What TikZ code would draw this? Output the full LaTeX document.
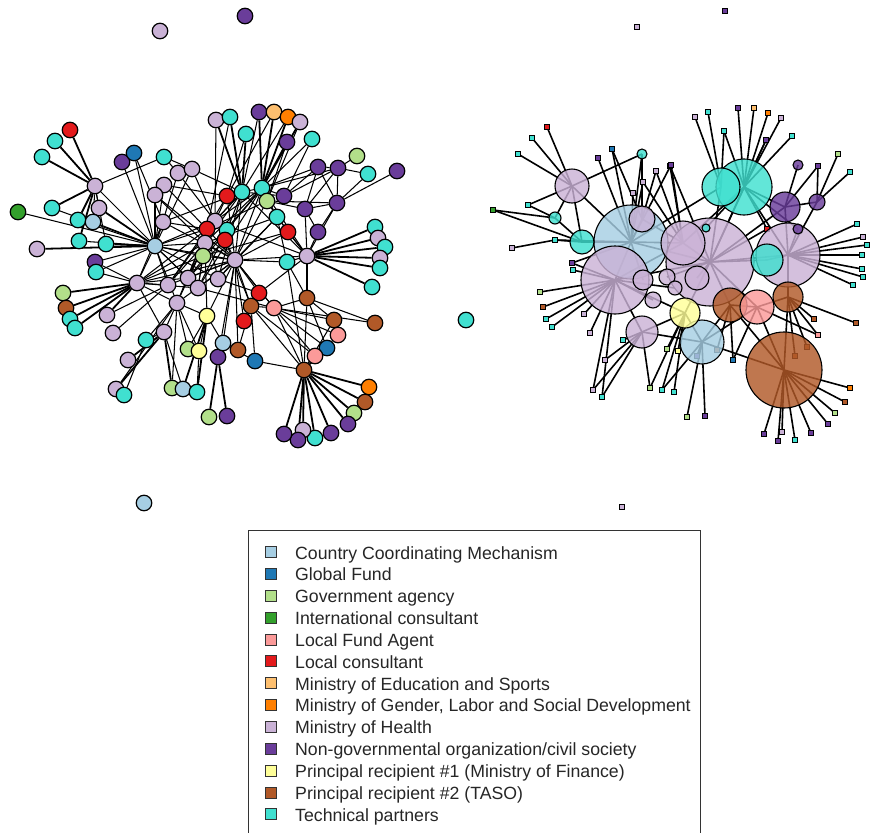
\documentclass[tikz,border=0pt]{standalone}
\usepackage{fontspec}
\setmainfont{Liberation Sans}
\pgfdeclarelayer{bg}
\pgfsetlayers{bg,main}
\definecolor{cCCM}{HTML}{A6CEE3}
\definecolor{cGF}{HTML}{1F78B4}
\definecolor{cGov}{HTML}{B2DF8A}
\definecolor{cInt}{HTML}{33A02C}
\definecolor{cLFA}{HTML}{FB9A99}
\definecolor{cLC}{HTML}{E31A1C}
\definecolor{cMES}{HTML}{FDBF6F}
\definecolor{cMGL}{HTML}{FF7F00}
\definecolor{cMoH}{HTML}{CAB2D6}
\definecolor{cNGO}{HTML}{6A3D9A}
\definecolor{cPR1}{HTML}{FFFF99}
\definecolor{cPR2}{HTML}{B15928}
\definecolor{cTP}{HTML}{40E0D0}
\tikzset{
  lv/.style={circle,draw=black,line width=1.2pt,inner sep=0pt,minimum size=15.5pt},
  ed/.style={line width=1.05pt,black},
  edh/.style={line width=1.8pt,black},
  rc/.style={circle,draw=black,line width=1.1pt,inner sep=0pt,fill opacity=0.82},
  rl/.style={rectangle,draw=black,line width=0.9pt,inner sep=0pt,minimum size=4.5pt},
  re/.style={line width=1.6pt,black},
  legsq/.style={rectangle,draw=black!80,line width=0.7pt,inner sep=0pt,minimum size=11pt},
  legtx/.style={anchor=base west,inner sep=0pt,font=\fontsize{17.7}{20}\selectfont,text=black!85}
}
\begin{document}
\begin{tikzpicture}[x=1pt,y=-1pt]
\useasboundingbox (0,0) rectangle (871,833);
% ---------------- left network nodes
\foreach \n/\x/\y/\c in {
a1/70/130/cLC, a2/55/141/cTP, a3/42/157/cTP, a4/122/162/cNGO, a5/134/153/cGF, a6/164/157/cTP,
a7/95/186/cMoH, a8/178/173/cMoH, a9/192/169/cMoH, a10/164/185/cMoH, a11/155/195/cMoH,
a12/18/212/cInt, a13/52/208/cTP, a14/99/208/cMoH, a15/78/220/cTP, a16/93/222/cCCM,
a17/163/222/cMoH, a18/79/241/cTP, a19/106/244/cTP, a20/155/246/cCCM, a21/37/249/cMoH,
a25/95/262/cNGO, a26/96/272/cTP,
b1/216/120/cMoH, b2/230/117/cTP, b3/259/112/cNGO, b4/274/112/cMES, b5/288/117/cMGL, b6/300/122/cMoH,
b7/246/134/cTP, b8/287/142/cNGO, b9/312/139/cTP, b10/357/156/cGov, b11/397/171/cNGO, b12/368/174/cTP,
b13/318/167/cNGO, b14/338/168/cNGO, b15/227/196/cLC, b16/242/192/cTP, b17/262/188/cTP, b18/267/201/cGov,
b19/284/196/cNGO, b20/305/209/cNGO, b21/337/203/cNGO, b22/277/217/cTP, b23/288/232/cLC, b24/318/232/cNGO,
b25/375/227/cTP, b26/378/238/cMoH, b27/385/247/cTP, b28/307/256/cMoH, b29/287/262/cTP, b30/235/260/cMoH,
b32/227/230/cTP, b31/225/240/cLC, a27/215/221/cMoH, a22/207/229/cLC, a23/205/243/cMoH, a24/203/256/cGov,
b33/380/258/cMoH, b34/380/268/cTP, b35/372/287/cTP,
c1/63/293/cGov, c2/66/308/cPR2, c3/70/319/cTP, c4/75/328/cTP, c5/107/315/cMoH, c6/113/333/cMoH,
c7/137/283/cMoH, c8/168/285/cMoH, c9/188/278/cMoH, c10/198/288/cMoH, c11/177/303/cMoH, c12/207/316/cPR1,
c13/164/332/cMoH, c14/146/340/cTP, c15/128/360/cMoH, c16/188/349/cGov, c17/199/351/cPR1, c18/218/357/cNGO,
c19/116/389/cMoH, c20/124/395/cTP, c21/172/388/cGov, c22/183/389/cCCM, c23/197/392/cTP, c24/209/417/cGov,
c25/227/416/cNGO, c26/218/279/cMoH,
d1/259/293/cLC, d2/251/306/cPR2, d3/274/308/cLFA, d4/244/321/cLC, d5/307/298/cPR2, d6/334/320/cPR2,
d7/375/323/cPR2, d8/338/335/cLFA, d9/327/348/cGF, d10/315/356/cLFA, d11/223/343/cCCM, d12/238/350/cPR2,
d13/255/361/cGF, d14/304/370/cPR2, d15/369/387/cMGL, d16/365/402/cPR2, d17/354/413/cGov, d18/348/424/cNGO,
d19/331/433/cNGO, d20/315/438/cTP, d21/303/430/cMoH, d22/298/440/cNGO, d23/284/434/cNGO,
e1/160/31/cMoH, e2/245/16/cNGO, e3/466/320/cTP, e4/144/503/cCCM}
  \node[lv,fill=\c] (\n) at (\x,\y) {};
% ---------------- right network leaves
\foreach \n/\x/\y/\c in {
q1/547/127/cLC, q2/532/138/cTP, q3/518/154/cTP, q4/612/149/cGF, q5/598/158/cNGO, q6/493/210/cInt,
q7/528/205/cTP, q8/512/248/cMoH, q9/555/240/cTP, q10/643/182/cMoH, q11/633/193/cMoH, q12/656/171/cMoH,
q13/670/166/cNGO, q14/695/117/cMoH, q15/708/112/cTP, q16/724/131/cTP, q17/738/108/cNGO, q18/754/108/cMES,
q19/768/113/cMGL, q20/781/118/cMoH, q21/766/140/cNGO, q22/792/136/cTP, q23/838/154/cGov, q24/850/172/cTP,
q26/818/166/cNGO, q27/671/165/cNGO, q28/857/224/cTP, q29/863/237/cMoH, q30/867/245/cTP, q31/862/255/cTP,
q32/862/269/cTP, q33/863/277/cTP, q34/853/285/cTP, q35/814/319/cPR2, q36/856/323/cPR2, q37/818/335/cLFA,
q38/807/347/cPR2, q39/795/356/cPR2, q40/733/360/cGF, q41/717/350/cPR2, q42/697/356/cNGO, q43/687/417/cGov,
q44/705/416/cNGO, q45/662/390/cTP, q46/674/392/cTP, q47/650/388/cGov, q48/667/349/cGov, q49/678/351/cPR1,
q50/850/388/cMGL, q51/845/402/cPR2, q52/835/413/cGov, q53/828/424/cNGO, q54/811/433/cNGO, q55/795/440/cTP,
q56/782/432/cMoH, q57/778/441/cNGO, q58/764/434/cNGO, q59/540/292/cGov, q60/543/307/cPR2, q61/546/319/cTP,
q62/552/327/cTP, q63/584/314/cMoH, q64/590/333/cMoH, q65/623/340/cTP, q66/605/360/cMoH, q67/593/390/cMoH,
q68/602/397/cTP, q69/572/263/cNGO, q70/573/270/cTP, q71/767/229/cLC, q72/637/27/cMoH, q73/725/11/cNGO,
q74/622/507/cMoH}
  \node[rl,fill=\c] (\n) at (\x,\y) {};
% ---------------- right network circles
\foreach \n/\x/\y/\d/\c in {
R9/710/262/88pt/cMoH, R5/631/242/74pt/cCCM, R7/615/280/68pt/cMoH, R21/784/370/76pt/cPR2,
R10/788/255/64pt/cMoH, R11/744/187/56pt/cTP, R12/721/187/38pt/cTP, R8/683/243/44pt/cMoH,
R20/702/342/44pt/cCCM, R1/572/186/34pt/cMoH, R16/730/305/34pt/cPR2, R17/757/307/34pt/cLFA,
R18/788/297/30pt/cPR2, R19/685/313/30pt/cPR1, R22/642/332/32pt/cMoH, R6/642/219/26pt/cMoH,
R13/785/207/30pt/cNGO, R15/767/260/32pt/cTP, R4/582/242/24pt/cTP, R14/817/202/16pt/cNGO,
R23/697/278/24pt/cMoH, R24a/667/277/16pt/cMoH, R24b/675/288/14pt/cMoH, R24c/653/300/16pt/cMoH,
R24d/643/280/20pt/cMoH, R3/555/218/12pt/cTP, R2/642/154/10pt/cTP, R25/706/228/8pt/cTP,
R26/798/229/10pt/cNGO, R27/798/165/10pt/cNGO}
  \node[rc,fill=\c,minimum size=\d] (\n) at (\x,\y) {};
% ---------------- edges
\begin{pgfonlayer}{bg}
% heavier (multiple) ties from hubs to their leaves
\foreach \a/\b in {
a7/a1, a7/a2, a7/a3, a7/a13, a7/a15, a7/a18, a20/a21, a20/a14, a20/a19,
b1/b16, b2/b16, b3/b17, b4/b17, b5/b17, b6/b17, b7/b16, b8/b17,
b28/b25, b28/b26, b28/b27, b28/b33, b28/b34, b28/b35,
c7/c1, c7/c2, c7/c3, c7/c4, c7/c5,
d14/d15, d14/d16, d14/d17, d14/d18, d14/d19, d14/d20, d14/d21, d14/d22, d14/d23,
c13/c19, c13/c21, c12/c22, c12/c23, c18/c24, c18/c25, c13/c15}
  \draw[edh] (\a) -- (\b);
\foreach \a/\b in {
a7/a14, a7/a16, a7/a19, a7/a6, a7/a20,
a12/a20, a13/a20, a4/a20, a5/a20, a5/a17, a15/a20, a16/a20, a18/a20,
a20/a17, a20/a10, a20/a11, a20/a23, a20/a24, a20/a22, a20/a27, a20/b30, a20/c7, a20/c8, a20/c9,
a20/c10, a20/c26, a20/a25, a20/a26, a20/c11, a20/a8, a20/a9,
a8/a27, a9/a27, a9/b16, a10/a22, a11/a23, a17/b30, a17/a22, a6/a9, a6/a8,
b1/a27, b2/a22, b3/b16, b4/b15, b5/b16, b6/b18,
b7/b15, b8/b18, b9/b19, b9/b17,
b10/b14, b11/b21, b12/b21, b12/b14,
b13/b14, b13/b20, b13/b21, b14/b20, b14/b21, b19/b13, b19/b14, b20/b21, b24/b20, b24/b21,
b13/b17, b14/b17, b19/b17, b20/b18, b19/b16, b21/b18,
b28/b24, b28/b29, b28/b22, b28/b23,
b28/b30, b28/a27, b28/b20, b28/b21, b28/b16, b28/b17,
a22/a27, a22/b15, a22/b16, a22/b30, a23/b30, a24/b30, a27/b16, a27/b17, b15/b16, b15/b30,
b16/b17, b16/b30, b17/b18, b17/b22, b18/b22, b18/b30, b22/b29, b23/b30, b29/b30, b31/b32,
b31/b30, b32/b16, c26/b30, c9/b30, c10/b30, c11/b30, c12/b30, b30/d1, b30/d2, b30/d3, d1/b28,
b29/d5, a23/c9, a24/c10, b17/b30, b18/b23, b22/b30, b17/a23,
c8/b30, c9/a22, c10/a22, c26/a22, c26/b16, c11/a22, a23/b16, a24/b17, b31/c9, b32/c10,
c8/a27, c9/b15, c10/b17, c26/b22, a23/b22, a24/b23, c8/a23, c11/a23, c12/a23, c26/d1,
b31/d2, b32/b17, a22/b18, c9/b32, c10/d3, a17/b16, a10/b15, a11/b30, c8/a22,
c7/a25, c7/a26, c7/b30, c7/a23, c7/a24, c7/c8, c7/c9,
c7/c10, c7/c11, c7/c13, c7/a22, c7/a17, c6/c8, c5/c8,
c11/c13, c11/c16, c11/c17, c11/c12, c13/c14, c14/c11, c20/c14,
c12/c16, c12/c17, c12/d11, c23/c17, c18/d11, c18/b30,
c22/c13, c21/c11, c19/c11,
d11/b30, d11/d12, d11/d13, d13/d14, d13/d2, d12/d2, d12/b30, d2/d1, d2/d3, d2/d4, d2/d14,
d3/d14, d3/d6, d3/d8, d3/d5, d3/b30, d4/b30, d5/d7, d5/d6, d5/d14, d5/b28, d9/d3, d9/d5,
d10/d2, d10/d3, d7/d3,
d14/d9, d14/d10, d14/b29, d14/d8, d14/d6}
  \draw[ed] (\a) -- (\b);
\foreach \a/\b in {
q1/R1, q2/R1, q3/R1, q7/R1, q7/R3, q6/R3, q6/R4, q8/q9, q9/R4, q9/R5, q4/R5, q5/R5, q4/R6,
q10/R5, q11/R5, q10/R8, q12/R6, q12/R8, q13/R8, q13/R9, q27/R5, q27/R8,
q14/R12, q15/R12, q16/R11, q16/R12, q17/R11, q18/R11, q19/R11, q20/R11, q21/R11, q22/R11,
q21/R9, q23/R14, q24/R14, q26/R13, q26/R14,
q28/R10, q29/R10, q30/R10, q31/R10, q32/R10, q33/R10, q34/R10,
q35/R18, q36/R18, q37/R18, q38/R18, q39/R18, q37/R17, q40/R17, q40/R16, q41/R16,
q42/R20, q43/R20, q44/R20, q45/R19, q46/R19, q45/R20, q47/R22, q47/R19, q48/R19, q49/R19,
q50/R21, q51/R21, q52/R21, q53/R21, q54/R21, q55/R21, q56/R21, q57/R21, q58/R21,
q59/R7, q60/R7, q61/R7, q62/R7, q63/R7, q64/R7, q65/R22, q66/R22, q67/R22, q68/R22,
q67/R7, q68/R7, q69/R7, q70/R7, q69/R5, q71/R9, q71/R11,
R1/R2, R2/R6, R2/R5, R1/R5, R1/R4, R1/R3, R3/R4, R4/R5, R5/R6, R5/R7, R5/R8, R6/R8,
R7/R22, R7/R8, R7/R9, R8/R9, R9/R11, R9/R10, R10/R13, R11/R13, R11/R8, R13/R14, R9/R16,
R9/R17, R16/R17, R17/R18, R17/R21, R18/R21, R16/R20, R19/R20, R19/R9, R20/R21, R12/R9,
R12/R5, R15/R9, R15/R10, R10/R11, R7/R19, R22/R19, R27/R13, R26/R10, R26/R11, R14/R10,
R18/R10, R16/R21, R20/R17, R5/R9, R23/R9, R24a/R9, R24b/R7, R24c/R7, R24d/R5, R25/R11,
R20/R22, R13/R9}
  \draw[re] (\a.center) -- (\b.center);
\end{pgfonlayer}
% ---------------- legend
\node[draw=black!80,line width=0.8pt,minimum width=452pt,minimum height=303pt,anchor=north west,inner sep=0pt] (leg) at (248,530) {};
\node[legsq,fill=cCCM] (s1) at (271,552) {};
\node[legsq,fill=cGF]  (s2) at (271,573.85) {};
\node[legsq,fill=cGov] (s3) at (271,595.7) {};
\node[legsq,fill=cInt] (s4) at (271,617.55) {};
\node[legsq,fill=cLFA] (s5) at (271,639.4) {};
\node[legsq,fill=cLC]  (s6) at (271,661.25) {};
\node[legsq,fill=cMES] (s7) at (271,683.1) {};
\node[legsq,fill=cMGL] (s8) at (271,704.95) {};
\node[legsq,fill=cMoH] (s9) at (271,726.8) {};
\node[legsq,fill=cNGO] (s10) at (271,748.65) {};
\node[legsq,fill=cPR1] (s11) at (271,770.5) {};
\node[legsq,fill=cPR2] (s12) at (271,792.35) {};
\node[legsq,fill=cTP]  (s13) at (271,814.2) {};
\node[legtx] (t1) at (295,559) {Country Coordinating Mechanism};
\node[legtx] (t2) at (295,580.85) {Global Fund};
\node[legtx] (t3) at (295,602.7) {Government agency};
\node[legtx] (t4) at (295,624.55) {International consultant};
\node[legtx] (t5) at (295,646.4) {Local Fund Agent};
\node[legtx] (t6) at (295,668.25) {Local consultant};
\node[legtx] (t7) at (295,690.1) {Ministry of Education and Sports};
\node[legtx] (t8) at (295,711.95) {Ministry of Gender, Labor and Social Development};
\node[legtx] (t9) at (295,733.8) {Ministry of Health};
\node[legtx] (t10) at (295,755.65) {Non-governmental organization/civil society};
\node[legtx] (t11) at (295,777.5) {Principal recipient \#1 (Ministry of Finance)};
\node[legtx] (t12) at (295,799.35) {Principal recipient \#2 (TASO)};
\node[legtx] (t13) at (295,821.2) {Technical partners};
\end{tikzpicture}
\end{document}
